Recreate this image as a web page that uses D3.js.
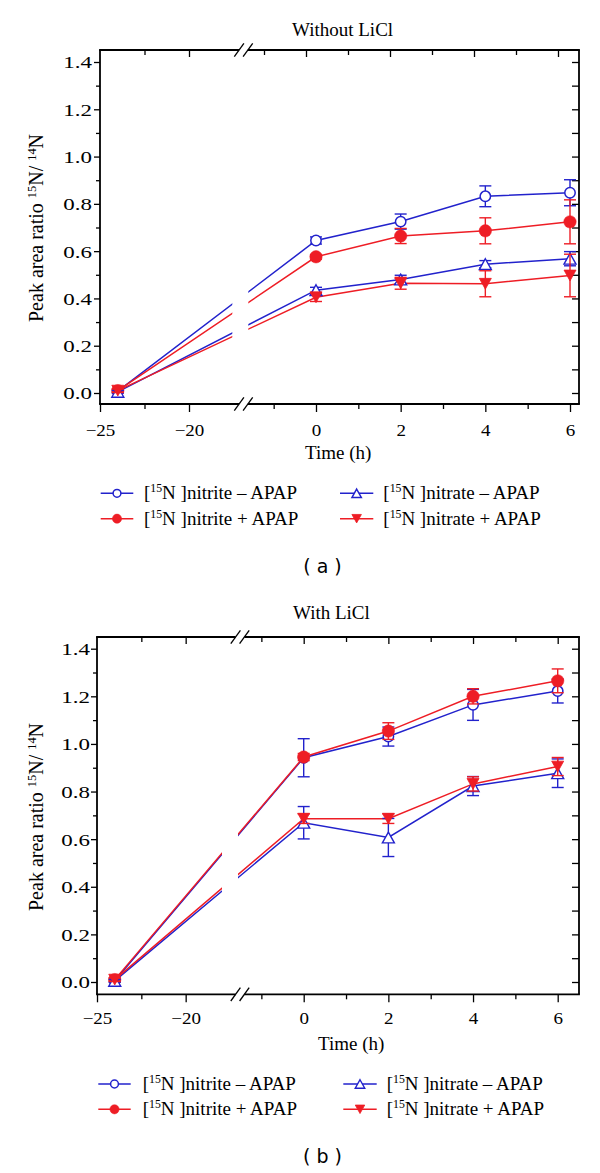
<!DOCTYPE html>
<html><head><meta charset="utf-8">
<script src="https://cdn.jsdelivr.net/npm/d3@7"></script>
<style>body{margin:0;background:#fff}svg{display:block}</style>
</head><body>
<svg id="c" width="600" height="1173"></svg>
<script>
// ---------- data ----------
const times = [-24, 0, 2, 4, 6];
const seriesKeys = ["nitriteMinus", "nitritePlus", "nitrateMinus", "nitratePlus"];
const seriesLabels = [
  ["[", "15", "N ]nitrite – APAP"],
  ["[", "15", "N ]nitrite + APAP"],
  ["[", "15", "N ]nitrate – APAP"],
  ["[", "15", "N ]nitrate + APAP"]
];
// panel (a) Without LiCl
const aNitriteMinus    = [0.008, 0.645, 0.725, 0.832, 0.847];
const aNitriteMinusErr = [0.006, 0.015, 0.032, 0.044, 0.055];
const aNitritePlus     = [0.010, 0.576, 0.664, 0.686, 0.724];
const aNitritePlusErr  = [0.006, 0.010, 0.032, 0.055, 0.093];
const aNitrateMinus    = [0.005, 0.435, 0.480, 0.545, 0.568];
const aNitrateMinusErr = [0.006, 0.012, 0.018, 0.015, 0.030];
const aNitratePlus     = [0.010, 0.405, 0.464, 0.462, 0.497];
const aNitratePlusErr  = [0.008, 0.018, 0.025, 0.055, 0.090];
// panel (b) With LiCl
const bNitriteMinus    = [0.005, 0.942, 1.031, 1.164, 1.222];
const bNitriteMinusErr = [0.006, 0.080, 0.040, 0.065, 0.050];
const bNitritePlus     = [0.010, 0.945, 1.054, 1.200, 1.265];
const bNitritePlusErr  = [0.006, 0.015, 0.035, 0.032, 0.050];
const bNitrateMinus    = [0.005, 0.669, 0.607, 0.823, 0.877];
const bNitrateMinusErr = [0.006, 0.068, 0.080, 0.040, 0.060];
const bNitratePlus     = [0.010, 0.686, 0.686, 0.832, 0.905];
const bNitratePlusErr  = [0.008, 0.020, 0.020, 0.030, 0.038];

const yMajorTicks = [0, 0.2, 0.4, 0.6, 0.8, 1.0, 1.2, 1.4];
const yMinorTicks = [0.1, 0.3, 0.5, 0.7, 0.9, 1.1, 1.3];
const yRightTicks = [0, 0.1, 0.2, 0.3, 0.4, 0.5, 0.6, 0.7, 0.8, 0.9, 1.0, 1.1, 1.2, 1.3, 1.4];
const xLeftMajor = [-25, -20];
const xLeftMinor = [-22.5];
const xRightMajor = [0, 2, 4, 6];
const xRightMinor = [-1, 1, 3, 5];
const xLeftDomain = [-25, -17.5];
const xRightRef = [0, 6];
const yRef = [0, 1.4];

// ---------- styles ----------
const BLUE = "#2222cc", RED = "#ee1d25";
const styles = {
  nitriteMinus: {color: BLUE, shape: "circle", filled: false},
  nitritePlus:  {color: RED,  shape: "circle", filled: true},
  nitrateMinus: {color: BLUE, shape: "up",     filled: false},
  nitratePlus:  {color: RED,  shape: "down",   filled: true}
};
const SERIF = "'Liberation Serif','Times New Roman',serif";

const panels = [
  {data: {nitriteMinus: [aNitriteMinus, aNitriteMinusErr], nitritePlus: [aNitritePlus, aNitritePlusErr],
          nitrateMinus: [aNitrateMinus, aNitrateMinusErr], nitratePlus: [aNitratePlus, aNitratePlusErr]},
   left: 100, right: 579, top: 50, bottom: 404,
   xLeftRange: [100, 233.5], xR06: [316, 570], xTop06: [306, 558], y014: [393, 62],
   breakC: 243.5, lineGap: [232.3, 248.3],
   title: "Without LiCl", titleX: 292, titleY: 36,
   timeX: 305, timeY: 459.4, yLabX: 43, yLabY: 322, xTickBase: 436, yTickGap: 8,
   leg: {rows: [493.3, 518.7], lines: [[100.7, 133.3], [340, 373.3]], textX: [144, 383.3], base: 6},
   cap: "( a )", capY: 573},
  {data: {nitriteMinus: [bNitriteMinus, bNitriteMinusErr], nitritePlus: [bNitritePlus, bNitritePlusErr],
          nitrateMinus: [bNitrateMinus, bNitrateMinusErr], nitratePlus: [bNitratePlus, bNitratePlusErr]},
   left: 97, right: 579, top: 637, bottom: 994.3,
   xLeftRange: [97, 230], xR06: [303.7, 557.7], xTop06: [303.7, 557.7], y014: [982, 648.7],
   breakC: 240, lineGap: [222, 238],
   title: "With LiCl", titleX: 293, titleY: 619.3,
   timeX: 318, timeY: 1050, yLabX: 43, yLabY: 911, xTickBase: 1024.5, yTickGap: 7,
   leg: {rows: [1084, 1109.3], lines: [[98.3, 130.7], [343.3, 376.7]], textX: [142.7, 386.7], base: 5.5},
   cap: "( b )", capY: 1162.5}
];

const svg = d3.select("#c");

function markerPath(shape, big) {
  const w = big ? 12 : 9.5, h = big ? 10.8 : 8.5;
  if (shape === "up") return `M0,${-h/2}L${w/2},${h/2}L${-w/2},${h/2}Z`;
  return `M0,${h/2}L${w/2},${-h/2}L${-w/2},${-h/2}Z`;
}
function drawMarker(g, st, x, y, big) {
  if (st.shape === "circle") {
    g.append("circle").attr("cx", x).attr("cy", y)
      .attr("r", st.filled ? (big ? 6.2 : 4.6) : (big ? 5.2 : 3.9))
      .attr("fill", st.filled ? st.color : "#fff")
      .attr("stroke", st.color).attr("stroke-width", st.filled ? 0.5 : 1.5);
  } else {
    g.append("path").attr("d", markerPath(st.shape, big))
      .attr("transform", `translate(${x},${y})`)
      .attr("fill", st.filled ? st.color : "#fff")
      .attr("stroke", st.color).attr("stroke-width", st.filled ? 0.8 : 1.4)
      .attr("stroke-linejoin", "miter");
  }
}
function supText(sel, parts, supShift) {
  parts.forEach((p, i) => {
    const t = sel.append("tspan").text(p);
    if (i % 2 === 1) t.attr("font-size", "0.62em").attr("dy", -supShift);
    else if (i > 0) t.attr("dy", supShift);
  });
}

panels.forEach((P, pi) => {
  const g = svg.append("g");
  const xL = d3.scaleLinear().domain(xLeftDomain).range(P.xLeftRange);
  const xR = d3.scaleLinear().domain(xRightRef).range(P.xR06);
  const xT = d3.scaleLinear().domain(xRightRef).range(P.xTop06);
  const y = d3.scaleLinear().domain(yRef).range(P.y014);
  const X = v => (v < -10 ? xL(v) : xR(v));

  // frame
  const frame = g.append("g").attr("stroke", "#000").attr("stroke-width", 1.8).attr("fill", "none");
  const bo = 4.4;
  frame.append("line").attr("x1", P.left).attr("x2", P.left).attr("y1", P.top).attr("y2", P.bottom);
  frame.append("line").attr("x1", P.right).attr("x2", P.right).attr("y1", P.top).attr("y2", P.bottom);
  [P.top, P.bottom].forEach(ay => {
    frame.append("line").attr("x1", P.left - 0.9).attr("x2", P.breakC - bo).attr("y1", ay).attr("y2", ay);
    frame.append("line").attr("x1", P.breakC + bo).attr("x2", P.right + 0.9).attr("y1", ay).attr("y2", ay);
    [-bo, bo].forEach(o => {
      frame.append("line").attr("stroke-width", 1.3)
        .attr("x1", P.breakC + o - 4.8).attr("y1", ay + 6.7)
        .attr("x2", P.breakC + o + 4.8).attr("y2", ay - 6.7);
    });
  });

  const tickStyle = s => { s.select(".domain").remove(); s.selectAll("line").attr("stroke-width", 1.3); };
  // bottom axis
  const bx = g.append("g").attr("transform", `translate(0,${P.bottom})`);
  [[xL, xLeftMajor], [xR, xRightMajor]].forEach(([sc, tv]) => {
    const a = bx.append("g").call(d3.axisBottom(sc).tickValues(tv).tickSize(8).tickFormat(d3.format("d")));
    tickStyle(a);
    a.selectAll("text").attr("y", P.xTickBase - P.bottom).attr("dy", 0)
      .attr("font-family", SERIF).attr("font-size", 17).attr("fill", "#000")
      .attr("transform", "scale(1.12,1)");
  });
  [[xL, xLeftMinor], [xR, xRightMinor]].forEach(([sc, tv]) => {
    const a = bx.append("g").call(d3.axisBottom(sc).tickValues(tv).tickSize(5).tickFormat(""));
    tickStyle(a);
  });
  // top axis (inward)
  const tx = g.append("g").attr("transform", `translate(0,${P.top})`);
  [[xL, [-20], -7], [xL, xLeftMinor, -5], [xT, xRightMajor, -7], [xT, xRightMinor, -5]].forEach(([sc, tv, ts]) => {
    const a = tx.append("g").call(d3.axisTop(sc).tickValues(tv).tickSize(ts).tickFormat(""));
    tickStyle(a);
  });
  // left axis
  const ly = g.append("g").attr("transform", `translate(${P.left},0)`);
  const la = ly.append("g").call(d3.axisLeft(y).tickValues(yMajorTicks).tickSize(6).tickFormat(d3.format(".1f")));
  tickStyle(la);
  const ys = 1.35;
  la.selectAll("text").attr("x", -P.yTickGap / ys).attr("dy", "0.35em")
    .attr("font-family", SERIF).attr("font-size", 17).attr("fill", "#000")
    .attr("transform", `scale(${ys},1)`);
  tickStyle(ly.append("g").call(d3.axisLeft(y).tickValues(yMinorTicks).tickSize(4).tickFormat("")));
  // right axis (inward)
  const ry = g.append("g").attr("transform", `translate(${P.right},0)`);
  tickStyle(ry.append("g").call(d3.axisRight(y).tickValues(yRightTicks).tickSize(-7).tickFormat("")));

  // clip for connecting lines (gap at the break)
  const cid = "gap" + pi;
  const cp = svg.append("clipPath").attr("id", cid);
  cp.append("rect").attr("x", 0).attr("y", 0).attr("width", P.lineGap[0]).attr("height", 1173);
  cp.append("rect").attr("x", P.lineGap[1]).attr("y", 0).attr("width", 600 - P.lineGap[1]).attr("height", 1173);

  const line = d3.line().x(d => X(d[0])).y(d => y(d[1]));
  const lg = g.append("g").attr("clip-path", `url(#${cid})`);
  seriesKeys.forEach(k => {
    const vals = P.data[k][0];
    lg.append("path").datum(times.map((t, i) => [t, vals[i]])).attr("d", line)
      .attr("fill", "none").attr("stroke", styles[k].color).attr("stroke-width", 1.5);
  });
  // error bars and markers
  seriesKeys.forEach(k => {
    const [vals, errs] = P.data[k];
    const st = styles[k];
    const sg = g.append("g");
    const eg = sg.append("g").attr("stroke", st.color).attr("stroke-width", 1.4);
    times.forEach((t, i) => {
      const cx = X(t), y1 = y(vals[i] + errs[i]), y2 = y(vals[i] - errs[i]);
      eg.append("line").attr("x1", cx).attr("x2", cx).attr("y1", y1).attr("y2", y2);
      [y1, y2].forEach(yy => eg.append("line").attr("x1", cx - 6).attr("x2", cx + 6).attr("y1", yy).attr("y2", yy));
    });
    times.forEach((t, i) => drawMarker(sg, st, X(t), y(vals[i]), true));
  });

  // titles and labels
  g.append("text").attr("x", P.titleX).attr("y", P.titleY).attr("font-family", SERIF)
    .attr("font-size", 19).text(P.title);
  g.append("text").attr("x", P.timeX).attr("y", P.timeY).attr("font-family", SERIF)
    .attr("font-size", 19).text("Time (h)");
  const yl = g.append("text").attr("transform", `translate(${P.yLabX},${P.yLabY}) rotate(-90)`)
    .attr("font-family", SERIF).attr("font-size", 20);
  supText(yl, ["Peak area ratio ", "15", "N/ ", "14", "N"], 7.5);

  // legend
  seriesKeys.forEach((k, i) => {
    const col = Math.floor(i / 2), row = i % 2;
    const st = styles[k];
    const yy = P.leg.rows[row];
    const [x1, x2] = P.leg.lines[col];
    g.append("line").attr("x1", x1).attr("x2", x2).attr("y1", yy).attr("y2", yy)
      .attr("stroke", st.color).attr("stroke-width", 1.5);
    drawMarker(g, st, (x1 + x2) / 2, yy, false);
    const t = g.append("text").attr("x", P.leg.textX[col]).attr("y", yy + P.leg.base)
      .attr("font-family", SERIF).attr("font-size", 19);
    supText(t, seriesLabels[i], 7);
  });
  g.append("text").attr("x", 322.5).attr("y", P.capY).attr("text-anchor", "middle")
    .attr("font-family", "'DejaVu Sans',sans-serif").attr("font-size", 19).text(P.cap);
});
</script>
</body></html>
